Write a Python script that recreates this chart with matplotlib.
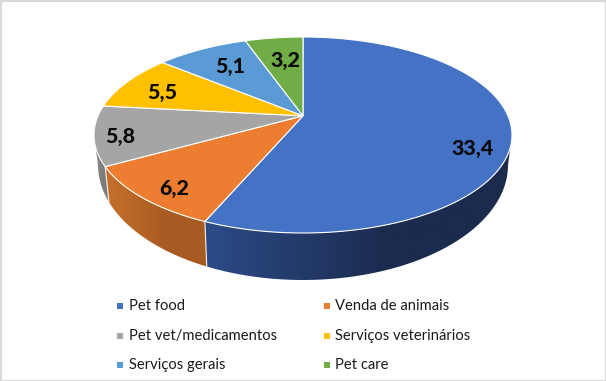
"""
Pet market pie chart, drawn as a tilted 3D pie with perspective.
Axes run in image pixels so the layout can be compared with the reference.
"""

import numpy as np
import matplotlib
matplotlib.use("Agg")
import matplotlib.pyplot as plt
from matplotlib.colors import to_rgb
from matplotlib.patches import Polygon, Rectangle

categories = ["Pet food", "Venda de animais", "Pet vet/medicamentos",
              "Serviços veterinários", "Serviços gerais", "Pet care"]
values = [33.4, 6.2, 5.8, 5.5, 5.1, 3.2]
value_labels = ["33,4", "6,2", "5,8", "5,5", "5,1", "3,2"]

colors = ["#4472C4", "#ED7D31", "#A5A5A5", "#FFC000", "#5B9BD5", "#70AD47"]
side_left = ["#2C4B87", "#C8702D", "#8F8F8F", "#FFC000", "#5B9BD5", "#70AD47"]
side_right = ["#1B2B4E", "#A75B22", "#7C7C7C", "#FFC000", "#5B9BD5", "#70AD47"]

# label centres and legend rows, in pixels
label_xy = [(473, 148), (174, 188), (120, 137), (162, 93), (230, 67), (285, 61)]
legend_marker_x = [120, 327]
legend_text_x = [129, 335]
legend_y = [306, 336, 365]

CX, CY, RX, RY = 303, 135, 209, 98
# the bottom rim is a slightly different ellipse because of the perspective
BOTTOM_CY, BOTTOM_RX, BOTTOM_RY = 165, 205, 115
PERSPECTIVE = 0.82
SEAM = "#F5EFE8"

plt.rcParams["font.family"] = ["Lato", "DejaVu Sans"]


def rim_angle(theta):
    """Clockwise angle from the top of the pie (deg) to its projected angle (rad)."""
    half = np.radians(np.asarray(theta, dtype=float) / 2)
    return 2 * np.arctan2(PERSPECTIVE * np.sin(half), np.cos(half))


def top_rim(theta):
    phi = rim_angle(theta)
    return CX + RX * np.sin(phi), CY - RY * np.cos(phi)


def bottom_rim(theta):
    phi = rim_angle(theta)
    return CX + BOTTOM_RX * np.sin(phi), BOTTOM_CY - BOTTOM_RY * np.cos(phi)


fig = plt.figure(figsize=(6.06, 3.81), dpi=100)
ax = fig.add_axes([0, 0, 1, 1])

ax.add_patch(Rectangle((0.5, 0.5), 605, 380, fill=False, ec="#D9D9D9", lw=1.5))

edges = np.concatenate([[0], np.cumsum(values)]) / sum(values) * 360
# the pie centre lands where the rim points at 90 and 270 degrees are joined
apex_x, apex_y = CX, top_rim(90)[1]

# side wall first, only the part of the rim between the widest points shows
front_start = 2 * np.degrees(np.arctan2(1, PERSPECTIVE))
front_end = 360 - front_start
for i in range(len(values)):
    lo, hi = max(edges[i], front_start), min(edges[i + 1], front_end)
    if hi <= lo:
        continue
    steps = np.linspace(lo, hi, 100)
    xs, ys = top_rim(steps)
    bx, by = bottom_rim(steps)
    pts = list(zip(xs, ys)) + list(zip(bx[::-1], by[::-1]))
    wall = Polygon(pts, fc="none", ec="none", zorder=2)
    ax.add_patch(wall)

    # horizontal gradient, dark part reached before the right hand end
    x0, x1 = min(xs.min(), bx.min()), max(xs.max(), bx.max())
    t = np.clip(np.linspace(0, 1, 200) / 0.6, 0, 1)[None, :, None]
    c0, c1 = np.array(to_rgb(side_left[i])), np.array(to_rgb(side_right[i]))
    grad = c0[None, None, :] + (c1 - c0)[None, None, :] * t
    img = ax.imshow(grad, extent=(x0, x1, by.max(), ys.min()), aspect="auto",
                    interpolation="bilinear", zorder=2)
    img.set_clip_path(wall)

    # light seam where one wall meets the next
    if edges[i] >= front_start:
        ax.plot([xs[0], bx[0]], [ys[0], by[0]], color=SEAM, lw=0.8, zorder=3)

ax.set_xlim(0, 606)
ax.set_ylim(381, 0)
ax.axis("off")

# top surface
for i in range(len(values)):
    steps = np.linspace(edges[i], edges[i + 1], 120)
    xs, ys = top_rim(steps)
    pts = [(apex_x, apex_y)] + list(zip(xs, ys))
    ax.add_patch(Polygon(pts, fc=colors[i], ec="white", lw=0.8, zorder=4))

for txt, (x, y) in zip(value_labels, label_xy):
    ax.text(x, y, txt, fontsize=15.4, fontweight="black", color="#0A0A0A",
            ha="center", va="center", zorder=5)

for i, name in enumerate(categories):
    y = legend_y[i // 2]
    mx = legend_marker_x[i % 2]
    ax.add_patch(Rectangle((mx - 3, y - 3), 6, 6, fc=colors[i], ec="none"))
    ax.text(legend_text_x[i % 2], y, name, fontsize=10.6, color="#1A1A1A",
            ha="left", va="center")

fig.savefig("out.png", dpi=100)
